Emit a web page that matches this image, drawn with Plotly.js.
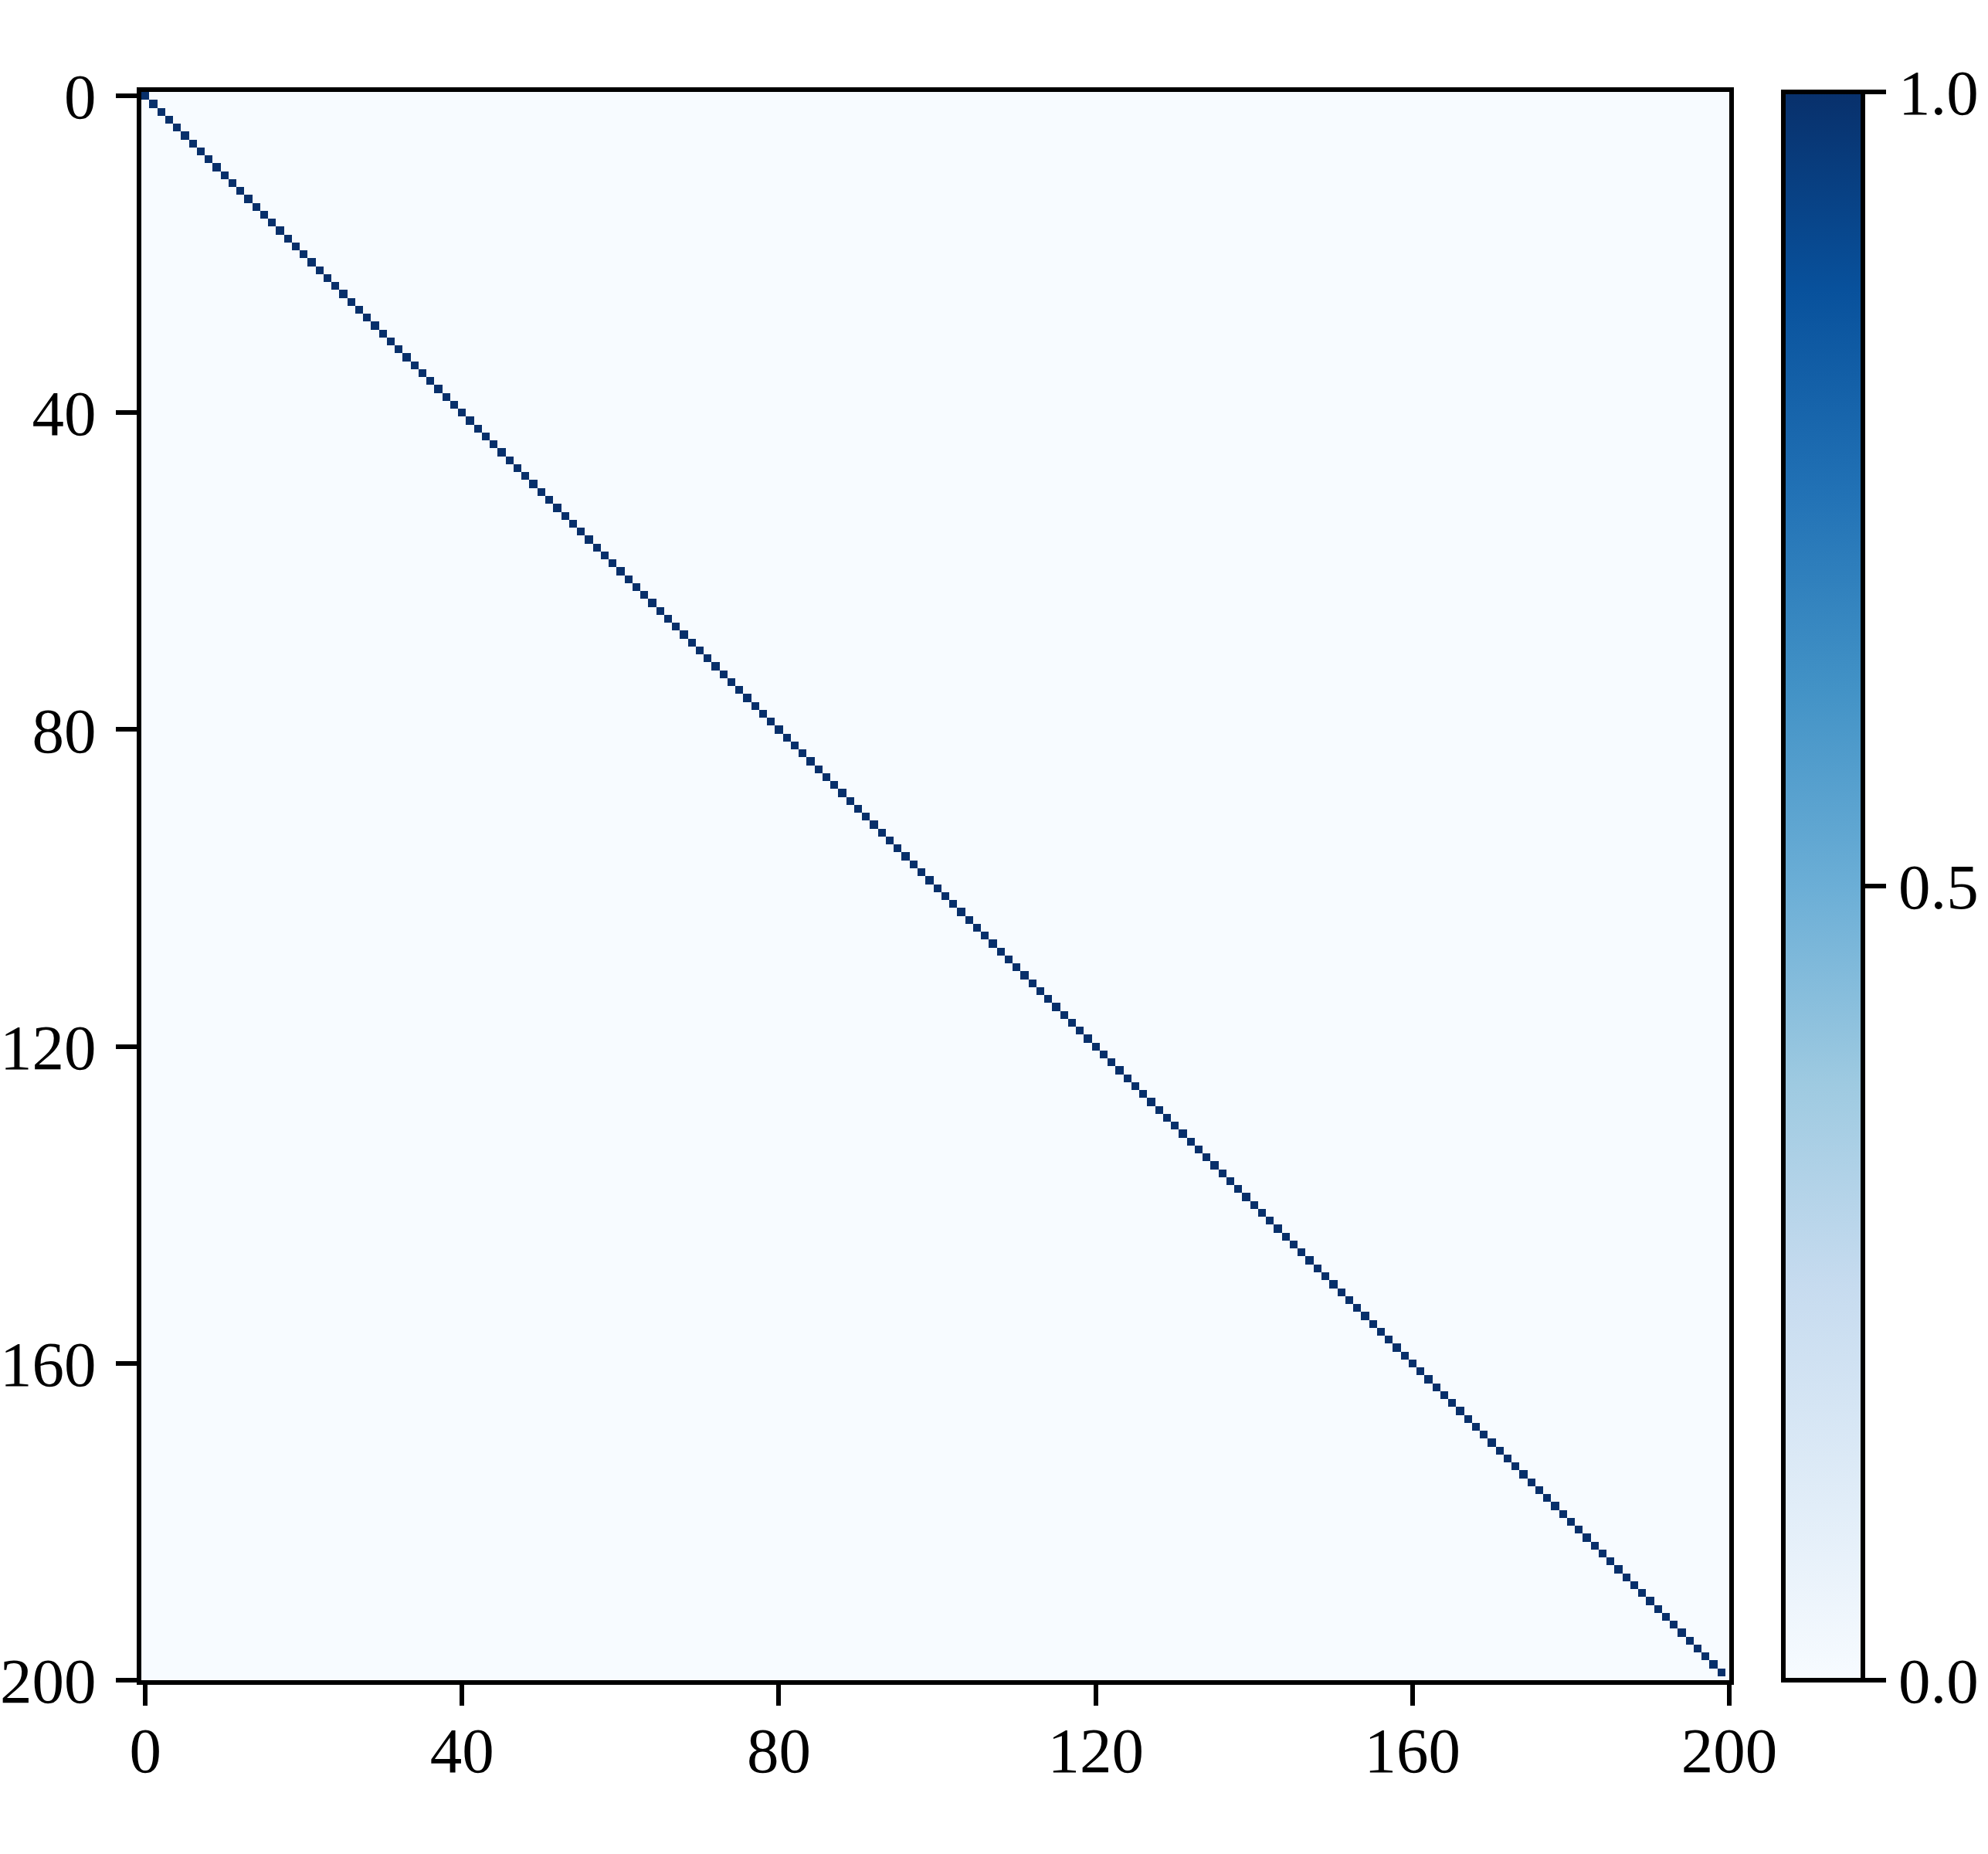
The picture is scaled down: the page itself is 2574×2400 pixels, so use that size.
<!DOCTYPE html>
<html>
<head>
<meta charset="utf-8">
<script src="https://cdn.plot.ly/plotly-3.0.1.min.js"></script>
<style>
  html, body { margin: 0; padding: 0; background: #ffffff; }
  #chart { width: 2574px; height: 2400px; }
</style>
</head>
<body>
<div id="chart"></div>
<script>
// ---- data ----
// 200 x 200 matrix: value 1 on the diagonal, 0 everywhere else
var diagonalValues = [
  1,1,1,1,1,1,1,1,1,1, 1,1,1,1,1,1,1,1,1,1,
  1,1,1,1,1,1,1,1,1,1, 1,1,1,1,1,1,1,1,1,1,
  1,1,1,1,1,1,1,1,1,1, 1,1,1,1,1,1,1,1,1,1,
  1,1,1,1,1,1,1,1,1,1, 1,1,1,1,1,1,1,1,1,1,
  1,1,1,1,1,1,1,1,1,1, 1,1,1,1,1,1,1,1,1,1,
  1,1,1,1,1,1,1,1,1,1, 1,1,1,1,1,1,1,1,1,1,
  1,1,1,1,1,1,1,1,1,1, 1,1,1,1,1,1,1,1,1,1,
  1,1,1,1,1,1,1,1,1,1, 1,1,1,1,1,1,1,1,1,1,
  1,1,1,1,1,1,1,1,1,1, 1,1,1,1,1,1,1,1,1,1,
  1,1,1,1,1,1,1,1,1,1, 1,1,1,1,1,1,1,1,1,1
];
var offDiagonalValue = 0;
var axisTickValues = [0, 40, 80, 120, 160, 200];
var axisTickLabels = ['0', '40', '80', '120', '160', '200'];
var colorbarTickValues = [0, 0.5, 1];
var colorbarTickLabels = ['0.0', '0.5', '1.0'];

// matplotlib "Blues"
var bluesScale = [
  [0.0, '#f7fbff'], [0.125, '#deebf7'], [0.25, '#c6dbef'],
  [0.375, '#9ecae1'], [0.5, '#6baed6'], [0.625, '#4292c6'],
  [0.75, '#2171b5'], [0.875, '#08519c'], [1.0, '#08306b']
];

var n = diagonalValues.length;
var idx = [];
for (var k = 0; k < n; k++) idx.push(k);
var z = [];
for (var i = 0; i < n; i++) {
  var row = [];
  for (var j = 0; j < n; j++) row.push(i === j ? diagonalValues[i] : offDiagonalValue);
  z.push(row);
}

var FONT = 'Liberation Serif';
var FS = 83;

var trace = {
  type: 'heatmap',
  x: idx, y: idx, z: z,
  zmin: 0, zmax: 1,
  zsmooth: false,
  colorscale: bluesScale,
  hoverinfo: 'skip',
  colorbar: {
    thickness: 103,
    thicknessmode: 'pixels',
    len: 1, lenmode: 'fraction',
    x: 1.034, xanchor: 'left', xpad: 0,
    y: 0.5, yanchor: 'middle', ypad: 0,
    outlinewidth: 6, outlinecolor: '#000000',
    tickmode: 'array',
    tickvals: colorbarTickValues,
    ticktext: colorbarTickLabels,
    ticks: 'outside', ticklen: 27, tickwidth: 6, tickcolor: '#000000',
    tickfont: { family: FONT, size: FS, color: '#000000' },
    ticklabelstandoff: 36
  }
};

var axisCommon = {
  tickmode: 'array',
  tickvals: axisTickValues,
  ticktext: axisTickLabels,
  ticks: 'outside', ticklen: 27, tickwidth: 6, tickcolor: '#000000',
  tickfont: { family: FONT, size: FS, color: '#000000' },
  showline: true, linewidth: 6, linecolor: '#000000', mirror: true,
  showgrid: false, zeroline: false, automargin: false
};

var layout = {
  width: 2574, height: 2400,
  margin: { l: 183, r: 335, t: 119, b: 225, pad: 0, autoexpand: false },
  paper_bgcolor: '#ffffff',
  plot_bgcolor: '#f7fbff',
  showlegend: false,
  xaxis: Object.assign({}, axisCommon, { range: [-0.5, 200], ticklabelstandoff: -14 }),
  yaxis: Object.assign({}, axisCommon, { range: [200, -0.5], ticklabelstandoff: 9 })
};

Plotly.newPlot('chart', [trace], layout, { staticPlot: true, displayModeBar: false });
</script>
</body>
</html>
